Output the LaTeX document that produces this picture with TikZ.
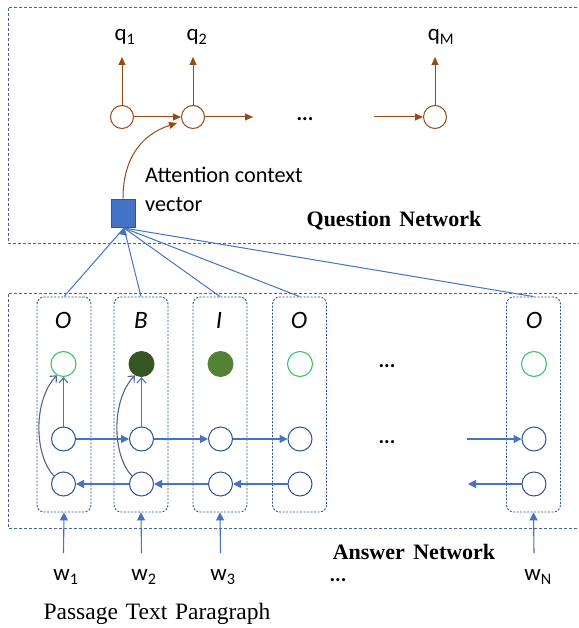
\documentclass[tikz,border=0pt]{standalone}
\usepackage{fontspec}
\setmainfont{Liberation Serif}
\setsansfont{Carlito}
\usetikzlibrary{arrows.meta}
\definecolor{brn}{RGB}{150,75,20}
\definecolor{lblue}{RGB}{68,114,196}
\definecolor{dblue}{RGB}{47,85,151}
\definecolor{gblue}{RGB}{80,100,150}
\definecolor{boxc}{RGB}{70,100,160}
\definecolor{lgreen}{RGB}{60,195,110}
\definecolor{dgreen}{RGB}{55,86,35}
\definecolor{mgreen}{RGB}{84,130,53}
\begin{document}
\begin{tikzpicture}[x=1pt,y=-1pt,
  qc/.style={circle,draw=brn,line width=1pt,minimum size=23pt,inner sep=0pt},
  hc/.style={circle,draw=dblue,line width=1pt,minimum size=24pt,inner sep=0pt},
  gc/.style={circle,draw=lgreen,line width=1.1pt,minimum size=25pt,inner sep=0pt},
  brarrow/.style={draw=brn,line width=1pt,-{Triangle[length=8pt,width=7pt]}},
  barrow/.style={draw=lblue,line width=1.1pt,-{Triangle[length=8pt,width=8pt]}},
  upar/.style={draw=lblue,line width=1.1pt,-{Straight Barb[length=5pt,width=9pt]}},
  curvar/.style={draw=gblue,line width=1.1pt,-{Straight Barb[length=5pt,width=9pt]}},
  attline/.style={draw=lblue,line width=1pt},
  dashbox/.style={draw=boxc,line width=0.9pt,dash pattern=on 3pt off 2pt},
  colbox/.style={draw=dblue,line width=0.9pt,dash pattern=on 2pt off 1.5pt,rounded corners=7pt,minimum width=54pt,minimum height=215pt,inner sep=0pt},
  sanslab/.style={font=\sffamily\fontsize{23}{27}\selectfont,inner sep=0pt},
  dotlab/.style={font=\sffamily\bfseries\fontsize{21}{25}\selectfont,inner sep=0pt,text height=3pt,text depth=0pt},
  itlab/.style={font=\sffamily\itshape\fontsize{25}{29}\selectfont,inner sep=0pt},
  boldlab/.style={font=\bfseries\fontsize{22}{26}\selectfont,inner sep=0pt},
  serlab/.style={font=\fontsize{23.5}{27}\selectfont,inner sep=0pt}
]
\useasboundingbox (0,0) rectangle (578,628);
\fill[white] (0,0) rectangle (578,628);

% ---------- Question network ----------
\draw[dashbox] (582,7) -- (8,7) -- (8,243) -- (582,243);
\node[qc] (c1) at (122,117) {};
\node[qc] (c2) at (193,117) {};
\node[qc] (cM) at (435,117) {};
\coordinate (c1up) at (122,57);
\coordinate (c2up) at (193,57);
\coordinate (cMup) at (435,57);
\draw[brarrow] (c1.north) -- (c1up);
\draw[brarrow] (c2.north) -- (c2up);
\draw[brarrow] (cM.north) -- (cMup);
\node[sanslab] (q1) at (125,37) {q\textsubscript{1}};
\node[sanslab] (q2) at (197,37) {q\textsubscript{2}};
\node[sanslab] (qM) at (441,37) {q\textsubscript{M}};
\draw[brarrow] (c1.east) -- (c2.west);
\coordinate (c2out) at (253,117);
\draw[brarrow] (c2.east) -- (c2out);
\coordinate (cMin) at (374,117);
\draw[brarrow] (cMin) -- (cM.west);
\node[dotlab] (qdots) at (305,119) {...};

\node[draw=dblue,fill=lblue,line width=0.6pt,minimum width=24pt,minimum height=28pt,inner sep=0pt] (att) at (123,213) {};
\coordinate (c2in) at (177,123);
\draw[brarrow] (att.north) .. controls (123,160) and (140,135) .. (c2in);
\node[anchor=west,align=left,inner sep=0pt,font=\sffamily\fontsize{22.3}{29}\selectfont] (attlab) at (145,189) {Attention context\\vector};
\node[boldlab] (qn) at (394,221) {Question\hspace{3pt} Network};

% ---------- Answer network ----------
\draw[dashbox] (582,293) -- (8,293) -- (8,528) -- (582,528);

\node[colbox] (col1) at (64,404.5) {};
\node[colbox] (col2) at (141,404.5) {};
\node[colbox] (col3) at (220,404.5) {};
\node[colbox] (col4) at (299.5,404.5) {};
\node[colbox] (col5) at (533.5,404.5) {};

\node[itlab] (l1) at (63,320) {O};
\node[itlab] (l2) at (141,320) {B};
\node[itlab] (l3) at (219,320) {I};
\node[itlab] (l4) at (299,320) {O};
\node[itlab] (l5) at (534,320) {O};

\node[gc] (g1) at (63.5,364) {};
\node[circle,fill=dgreen,minimum size=26pt,inner sep=0pt] (g2) at (141.5,364) {};
\node[circle,fill=mgreen,minimum size=26pt,inner sep=0pt] (g3) at (220.5,364) {};
\node[gc] (g4) at (300,364) {};
\node[gc] (g5) at (534,364) {};

\node[hc] (f1) at (63.5,439) {};
\node[hc] (f2) at (141.5,439) {};
\node[hc] (f3) at (220.5,439) {};
\node[hc] (f4) at (300,439) {};
\node[hc] (f5) at (534,439) {};
\node[hc] (b1) at (63.5,484) {};
\node[hc] (b2) at (141.5,484) {};
\node[hc] (b3) at (220.5,484) {};
\node[hc] (b4) at (300,484) {};
\node[hc] (b5) at (534,484) {};

\draw[barrow] (f1.east) -- (f2.west);
\draw[barrow] (f2.east) -- (f3.west);
\draw[barrow] (f3.east) -- (f4.west);
\coordinate (f5in) at (467,439);
\draw[barrow] (f5in) -- (f5.west);
\draw[barrow] (b2.west) -- (b1.east);
\draw[barrow] (b3.west) -- (b2.east);
\draw[barrow] (b4.west) -- (b3.east);
\coordinate (b5out) at (468,484);
\draw[barrow] (b5.west) -- (b5out);

\node[dotlab] (d1) at (387,366) {...};
\node[dotlab] (d2) at (387,442) {...};

\draw[upar] (f1.north) -- (g1.south);
\draw[upar] (f2.north) -- (g2.south);
\draw[curvar] (b1.140) .. controls (34,455) and (33,400) .. (g1.240);
\draw[curvar] (b2.140) .. controls (112,455) and (111,400) .. (g2.240);

% attention lines
\coordinate (attin) at (124,228);
\draw[attline] (col1.north) -- (attin);
\draw[attline] (col2.north) -- (attin);
\draw[attline] (col3.north) -- (attin);
\draw[attline] (col4.north) -- (attin);
\draw[attline] (col5.north) -- (attin);
\fill[lblue] (attin) -- ++(-6,6) -- ++(9,1.5) -- cycle;

% inputs
\coordinate (w1top) at (63.5,553);
\coordinate (w2top) at (141.5,553);
\coordinate (w3top) at (220.5,553);
\coordinate (wNtop) at (534,553);
\draw[barrow] (w1top) -- (col1.south);
\draw[barrow] (w2top) -- (col2.south);
\draw[barrow] (w3top) -- (col3.south);
\draw[barrow] (wNtop) -- (col5.south);

\node[sanslab] (w1) at (66,577) {w\textsubscript{1}};
\node[sanslab] (w2) at (144,577) {w\textsubscript{2}};
\node[sanslab] (w3) at (223,577) {w\textsubscript{3}};
\node[dotlab] (wdots) at (338,580) {...};
\node[sanslab] (wN) at (538,577) {w\textsubscript{N}};

\node[boldlab] (an) at (414,552) {Answer\hspace{3pt} Network};
\node[serlab] (pt) at (157,614) {Passage\hspace{2pt} Text\hspace{2pt} Paragraph};
\end{tikzpicture}
\end{document}
